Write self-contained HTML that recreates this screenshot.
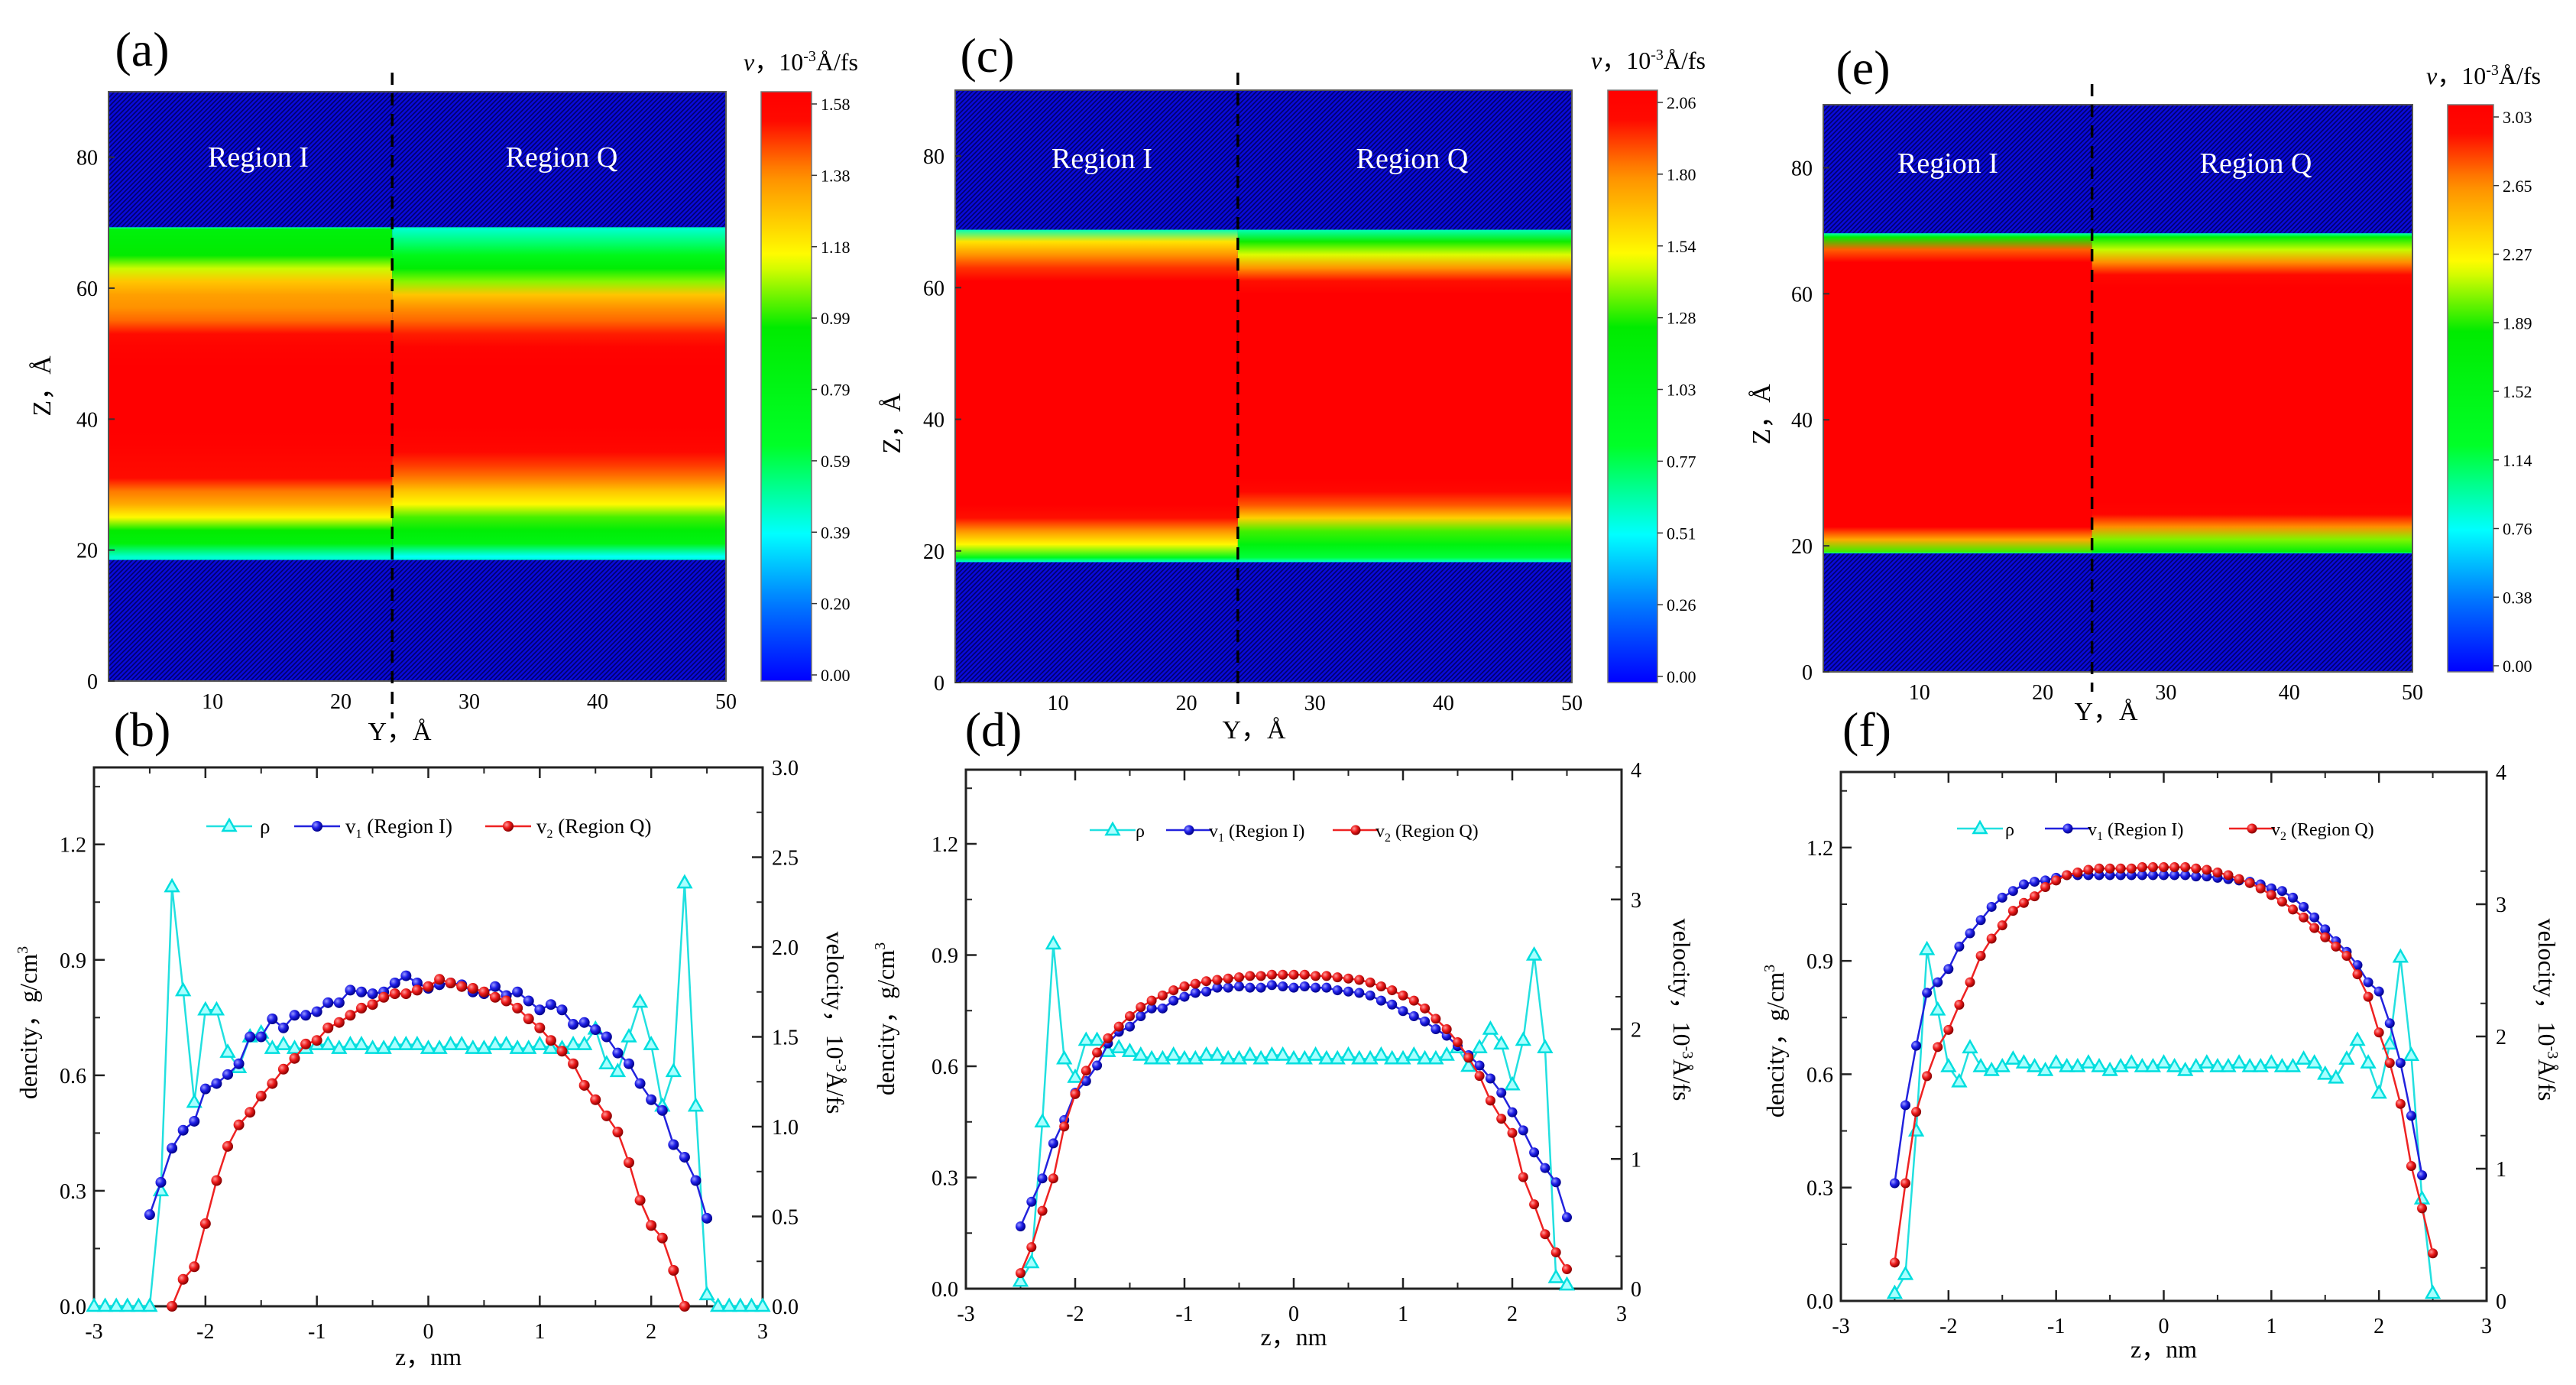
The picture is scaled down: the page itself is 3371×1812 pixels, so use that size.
<!DOCTYPE html>
<html><head><meta charset="utf-8"><style>
html,body{margin:0;padding:0;background:#fff;}
svg{display:block;font-family:"Liberation Serif","DejaVu Serif",serif;}
svg text, svg tspan{font-family:"Liberation Serif","DejaVu Serif",serif;}
</style></head><body>
<svg id="fig" width="3371" height="1812" viewBox="0 0 3371 1812" xmlns="http://www.w3.org/2000/svg" font-family="Liberation Serif, DejaVu Serif, serif">
<defs>
<pattern id="hatch" patternUnits="userSpaceOnUse" width="6" height="6">
<rect width="6" height="6" fill="#0a0ad8"/>
<path d="M-1,7 L7,-1 M-1,1 L1,-1 M5,7 L7,5" stroke="#00006a" stroke-width="1.6"/>
</pattern>
<radialGradient id="ballB" cx="35%" cy="35%" r="65%"><stop offset="0" stop-color="#9a9aff"/><stop offset="0.5" stop-color="#2020e8"/><stop offset="1" stop-color="#00008a"/></radialGradient>
<radialGradient id="ballR" cx="35%" cy="35%" r="65%"><stop offset="0" stop-color="#ff9a9a"/><stop offset="0.5" stop-color="#ee1c1c"/><stop offset="1" stop-color="#8a0000"/></radialGradient>
</defs>
</svg>
<script>
const NS='http://www.w3.org/2000/svg';
const svg=document.getElementById('fig');
const N=null;
const FONT='Liberation Serif, DejaVu Serif, serif';

// ---------- heatmap data ----------
const heatZ=[19,21,23,25,27,29,31,33,35,37,39,41,43,45,47,49,51,53,55,57,59,61,63,65,67,69];
const aLeft=[0.45,0.85,0.95,1.15,1.30,1.38,1.50,1.52,1.55,1.57,1.58,1.58,1.58,1.58,1.58,1.57,1.55,1.50,1.40,1.35,1.32,1.25,1.10,0.95,0.90,0.85];
const aRight=[0.40,0.80,0.90,1.00,1.15,1.25,1.38,1.45,1.52,1.56,1.58,1.58,1.58,1.58,1.58,1.57,1.55,1.48,1.40,1.35,1.25,1.05,0.92,0.75,0.55,0.45];
const cLeft=[0.95,1.50,1.75,1.95,2.06,2.06,2.06,2.06,2.06,2.06,2.06,2.06,2.06,2.06,2.06,2.06,2.06,2.06,2.06,2.06,2.06,2.06,1.90,1.75,1.55,1.20];
const cRight=[0.80,1.10,1.30,1.60,1.85,1.98,2.06,2.06,2.06,2.06,2.06,2.06,2.06,2.06,2.06,2.06,2.06,2.06,2.06,2.06,2.06,1.95,1.75,1.45,1.25,1.00];
const eLeft=[1.90,2.50,3.03,3.03,3.03,3.03,3.03,3.03,3.03,3.03,3.03,3.03,3.03,3.03,3.03,3.03,3.03,3.03,3.03,3.03,3.03,3.03,3.03,3.03,2.70,1.80];
const eRight=[1.70,2.00,2.60,2.95,3.03,3.03,3.03,3.03,3.03,3.03,3.03,3.03,3.03,3.03,3.03,3.03,3.03,3.03,3.03,3.03,3.03,3.03,2.90,2.60,2.10,1.80];
const aBar=['0.00','0.20','0.39','0.59','0.79','0.99','1.18','1.38','1.58'];
const cBar=['0.00','0.26','0.51','0.77','1.03','1.28','1.54','1.80','2.06'];
const eBar=['0.00','0.38','0.76','1.14','1.52','1.89','2.27','2.65','3.03'];
const heatYTicks=[0,20,40,60,80];
const heatXTicks=[10,20,30,40,50];

// ---------- profile data (z grid -3.0 .. 3.0, step 0.1) ----------
const zGrid=[-3.0,-2.9,-2.8,-2.7,-2.6,-2.5,-2.4,-2.3,-2.2,-2.1,-2.0,-1.9,-1.8,-1.7,-1.6,-1.5,-1.4,-1.3,-1.2,-1.1,-1.0,-0.9,-0.8,-0.7,-0.6,-0.5,-0.4,-0.3,-0.2,-0.1,0.0,0.1,0.2,0.3,0.4,0.5,0.6,0.7,0.8,0.9,1.0,1.1,1.2,1.3,1.4,1.5,1.6,1.7,1.8,1.9,2.0,2.1,2.2,2.3,2.4,2.5,2.6,2.7,2.8,2.9,3.0];
const bRho=[0,0,0,0,0, 0.00,0.30,1.09,0.82,0.53,0.77,0.77,0.66,0.62,0.70,0.71,0.67,
0.68,0.67,0.67,0.68,0.68,0.67,0.68,0.68,0.67,0.67,0.68,0.68,0.68,0.67,0.67,0.68,0.68,0.67,0.67,0.68,0.68,0.67,0.67,0.68,0.67,0.67,0.68,
0.68,0.72,0.63,0.61,0.70,0.79,0.68,0.52,0.61,1.10,0.52,0.03, 0,0,0,0,0];
const bV1=[N,N,N,N,N, 0.51,0.69,0.88,0.98,1.03,1.21,1.24,1.29,1.35,1.50,1.50,1.60,1.55,1.62,1.62,1.64,1.69,1.69,1.76,1.75,1.74,1.75,1.80,1.84,1.80,1.77,1.79,1.80,1.79,1.75,1.74,1.78,1.73,1.75,1.70,1.65,1.68,1.65,1.57,1.58,1.54,1.50,1.41,1.35,1.24,1.15,1.09,0.90,0.83,0.70,0.49, N,N,N,N,N];
const bV2=[N,N,N,N,N,N,N, 0.00,0.15,0.22,0.46,0.70,0.89,1.01,1.08,1.17,1.24,1.32,1.38,1.46,1.48,1.55,1.58,1.62,1.66,1.68,1.72,1.74,1.74,1.76,1.78,1.82,1.80,1.78,1.77,1.75,1.72,1.70,1.66,1.60,1.55,1.48,1.42,1.35,1.23,1.15,1.06,0.97,0.80,0.59,0.45,0.38,0.20,0.00, N,N,N,N,N,N,N];
const dRho=[N,N,N,N,N, 0.02,0.07,0.45,0.93,0.62,0.57,0.67,0.67,0.64,0.65,0.64,
0.63,0.62,0.62,0.63,0.62,0.62,0.63,0.63,0.62,0.62,0.63,0.62,0.63,0.63,0.62,0.62,0.63,0.62,0.62,0.63,0.62,0.62,0.63,0.62,0.62,0.63,0.62,0.62,0.63,
0.65,0.60,0.65,0.70,0.66,0.55,0.67,0.90,0.65,0.03,0.01, N,N,N,N,N];
const dV1=[N,N,N,N,N, 0.48,0.67,0.85,1.12,1.30,1.51,1.60,1.72,1.89,1.98,2.02,2.10,2.16,2.16,2.22,2.25,2.28,2.29,2.32,2.32,2.33,2.32,2.32,2.34,2.33,2.32,2.33,2.32,2.32,2.30,2.29,2.28,2.26,2.22,2.19,2.14,2.10,2.06,2.00,1.95,1.87,1.80,1.72,1.62,1.51,1.36,1.22,1.05,0.93,0.82,0.55, N,N,N,N,N];
const dV2=[N,N,N,N,N, 0.12,0.32,0.60,0.85,1.25,1.50,1.68,1.82,1.93,2.02,2.10,2.17,2.22,2.26,2.30,2.33,2.35,2.37,2.38,2.39,2.40,2.41,2.41,2.42,2.42,2.42,2.42,2.41,2.41,2.40,2.39,2.38,2.36,2.33,2.30,2.26,2.22,2.16,2.08,2.00,1.90,1.78,1.64,1.45,1.31,1.20,0.86,0.65,0.42,0.28,0.15, N,N,N,N,N];
const fRho=[N,N,N,N,N, 0.02,0.07,0.45,0.93,0.77,0.62,0.58,0.67,0.62,0.61,0.62,
0.64,0.63,0.62,0.61,0.63,0.62,0.62,0.63,0.62,0.61,0.62,0.63,0.62,0.62,0.63,0.62,0.61,0.62,0.63,0.62,0.62,0.63,0.62,0.62,0.63,0.62,0.62,0.64,0.63,
0.60,0.59,0.64,0.69,0.63,0.55,0.68,0.91,0.65,0.27,0.02, N,N,N,N,N];
const fV1=[N,N,N,N,N, 0.89,1.48,1.93,2.33,2.41,2.51,2.68,2.78,2.88,2.98,3.05,3.10,3.15,3.17,3.18,3.20,3.22,3.22,3.22,3.22,3.22,3.22,3.22,3.22,3.22,3.22,3.22,3.22,3.21,3.21,3.20,3.19,3.18,3.17,3.15,3.12,3.10,3.05,2.98,2.90,2.81,2.72,2.64,2.54,2.41,2.34,2.10,1.80,1.40,0.95, N,N,N,N,N];
const fV2=[N,N,N,N,N, 0.29,0.89,1.43,1.70,1.92,2.05,2.24,2.41,2.61,2.74,2.84,2.95,3.01,3.06,3.13,3.18,3.22,3.24,3.26,3.27,3.27,3.27,3.27,3.28,3.28,3.28,3.28,3.28,3.27,3.26,3.24,3.22,3.19,3.16,3.12,3.07,3.02,2.96,2.90,2.82,2.75,2.68,2.61,2.47,2.30,2.03,1.80,1.49,1.02,0.70,0.36, N,N,N,N,N];
const xTicks=[-3,-2,-1,0,1,2,3];
const leftTicks=['0.0','0.3','0.6','0.9','1.2'];
const bRightTicks=['0.0','0.5','1.0','1.5','2.0','2.5','3.0'];
const dRightTicks=['0','1','2','3','4'];

// ---------- helpers ----------
function el(tag,attrs,parent){const e=document.createElementNS(NS,tag);for(const k in attrs)e.setAttribute(k,attrs[k]);(parent||svg).appendChild(e);return e;}
function tel(attrs,parent){const e=el('text',attrs,parent);e.setAttribute('font-family',FONT);return e;}
function txt(s,attrs,parent){const e=tel(attrs,parent);e.textContent=s;return e;}
const cmapStops=[[0,[0,0,255]],[0.12,[0,110,255]],[0.25,[0,255,255]],[0.4,[0,255,40]],[0.6,[0,235,0]],[0.72,[255,255,0]],[0.86,[255,140,0]],[0.95,[255,10,0]],[1,[255,0,0]]];
function cmap(t){t=Math.max(0,Math.min(1,t));for(let i=1;i<cmapStops.length;i++){const a=cmapStops[i-1],b=cmapStops[i];if(t<=b[0]){const f=(t-a[0])/(b[0]-a[0]);const c=a[1].map((v,j)=>Math.round(v+(b[1][j]-v)*f));return 'rgb('+c.join(',')+')';}}return 'rgb(255,0,0)';}
let gid=0;
function vGrad(y1,y2,stops){const defs=svg.querySelector('defs');const id='g'+(gid++);const g=el('linearGradient',{id:id,gradientUnits:'userSpaceOnUse',x1:0,x2:0,y1:y1,y2:y2},defs);stops.forEach(s=>el('stop',{offset:s[0],'stop-color':s[1]},g));return 'url(#'+id+')';}

function heatmap(P){
  const g=el('g',{});
  
  
  const xs=v=>P.L+(v-P.x0)/(P.x1-P.x0)*(P.R-P.L);
  const ys=v=>P.B-(v/90)*(P.B-P.T);
  const bg=el('rect',{x:P.L,y:P.T,width:P.R-P.L,height:P.B-P.T,fill:'url(#hatch)'},g);
  
  
  const lo=P.lo,hi=P.hi;
  [[P.left,P.L,xs(P.split)],[P.right,xs(P.split),P.R]].forEach((c,ci)=>{
    const stops=[[0,cmap(0.28)]];
    heatZ.forEach((z,i)=>{const off=(z-lo)/(hi-lo);if(off>0&&off<1)stops.push([off.toFixed(4),cmap(c[0][i]/P.vmax)]);});
    stops.push([1,cmap(0.3)]);
    const r=el('rect',{x:c[1],y:ys(hi),width:c[2]-c[1],height:ys(lo)-ys(hi),fill:vGrad(ys(lo),ys(hi),stops)},g);
    
    
  });
  el('rect',{x:P.L,y:P.T,width:P.R-P.L,height:P.B-P.T,fill:'none',stroke:'#555',"stroke-width":2},g);
  heatYTicks.forEach(v=>{el('line',{x1:P.L,x2:P.L+8,y1:ys(v),y2:ys(v),stroke:'#333','stroke-width':2},g);
    const t=txt(String(v),{x:P.L-14,y:ys(v)+10,'text-anchor':'end','font-size':28},g);
    
    });
  heatXTicks.forEach(v=>{const t=txt(String(v),{x:xs(v),y:P.B+36,'text-anchor':'middle','font-size':28},g);
    
    });
  const d=el('line',{x1:xs(P.split),x2:xs(P.split),y1:P.dT,y2:P.dB,stroke:'#000','stroke-width':3.5,'stroke-dasharray':'16,11'},g);
  
  
  const r1=txt('Region I',{x:P.r1x,y:P.ry,'text-anchor':'middle','font-size':38,fill:'#fff'},g);
  
  
  const r2=txt('Region Q',{x:P.r2x,y:P.ry,'text-anchor':'middle','font-size':38,fill:'#fff'},g);
  
  
  const yl=txt('Z，Å',{x:0,y:0,'text-anchor':'middle','font-size':34,transform:'translate('+P.ylx+','+P.yly+') rotate(-90)'},g);
  
  
  const xl=txt('Y，Å',{x:P.xlx,y:P.xly,'text-anchor':'middle','font-size':34},g);
  
  
  const cb=el('g',{},g);
  
  
  const cst=[];for(let i=0;i<=40;i++){cst.push([(i/40).toFixed(3),cmap(i/40)]);}
  el('rect',{x:P.cL,y:P.T,width:P.cR-P.cL,height:P.B-P.T,fill:vGrad(P.cB,P.cT,cst),stroke:'#777','stroke-width':1.5},cb);
  P.bar.forEach((s,i)=>{const y=P.cB-8-(i/8)*(P.cB-P.cT-24);
    el('line',{x1:P.cR,x2:P.cR+7,y1:y,y2:y,stroke:'#333','stroke-width':1.5},cb);
    const t=txt(s,{x:P.cR+12,y:y+8,'font-size':22},cb);
    
    });
  const ct=tel({x:P.ctx,y:P.cty,'text-anchor':'end','font-size':32},g);
  
  
  ct.innerHTML='<tspan font-style="italic">v</tspan>，10<tspan font-size="20" dy="-12">-3</tspan><tspan dy="12">Å/fs</tspan>';
  const pl=txt(P.letter,{x:P.lx,y:P.ly,'text-anchor':'middle','font-size':64},g);
  
  
}

heatmap({name:'heatmap-a',letter:'(a)',lx:186,ly:86,L:142,R:950,T:120,B:891,x0:1.9,x1:50,split:24,lo:18.5,hi:69.3,vmax:1.58,left:aLeft,right:aRight,bar:aBar,
 cL:996,cR:1062,cT:120,cB:891,ctx:1123,cty:92,dT:95,dB:940,r1x:338,r2x:735,ry:218,ylx:66,yly:505,xlx:523,xly:968});
heatmap({name:'heatmap-c',letter:'(c)',lx:1292,ly:94,L:1250,R:2057,T:118,B:893,x0:2,x1:50,split:24,lo:18.3,hi:68.8,vmax:2.06,left:cLeft,right:cRight,bar:cBar,
 cL:2104,cR:2169,cT:118,cB:893,ctx:2232,cty:90,dT:95,dB:930,r1x:1442,r2x:1848,ry:220,ylx:1178,yly:554,xlx:1641,xly:966});
heatmap({name:'heatmap-e',letter:'(e)',lx:2438,ly:110,L:2386,R:3157,T:137,B:879,x0:2.2,x1:50,split:24,lo:18.8,hi:69.6,vmax:3.03,left:eLeft,right:eRight,bar:eBar,
 cL:3203,cR:3263,cT:137,cB:879,ctx:3325,cty:110,dT:110,dB:905,r1x:2549,r2x:2952,ry:226,ylx:2316,yly:542,xlx:2756,xly:942});

function profile(P){
  const g=el('g',{});
  
  
  const xs=v=>P.L+(v+3)/6*(P.R-P.L);
  const yl=v=>P.B-(v/1.4)*(P.B-P.T);
  const yr=v=>P.B-(v/P.rMax)*(P.B-P.T);
  el('rect',{x:P.L,y:P.T,width:P.R-P.L,height:P.B-P.T,fill:'none',stroke:'#222','stroke-width':3},g);
  xTicks.forEach((v,i)=>{const x=xs(v);
    el('line',{x1:x,x2:x,y1:P.B,y2:P.B-14,stroke:'#222','stroke-width':2.5},g);
    el('line',{x1:x,x2:x,y1:P.T,y2:P.T+14,stroke:'#222','stroke-width':2.5},g);
    if(i<xTicks.length-1){const xm=xs(v+0.5);el('line',{x1:xm,x2:xm,y1:P.B,y2:P.B-8,stroke:'#222','stroke-width':2},g);el('line',{x1:xm,x2:xm,y1:P.T,y2:P.T+8,stroke:'#222','stroke-width':2},g);}
    const t=txt(String(v),{x:x,y:P.B+42,'text-anchor':'middle','font-size':28},g);
    
    });
  leftTicks.forEach((s,i)=>{const y=yl(parseFloat(s));
    el('line',{x1:P.L,x2:P.L+14,y1:y,y2:y,stroke:'#222','stroke-width':2.5},g);
    const ym=yl(parseFloat(s)+0.15);el('line',{x1:P.L,x2:P.L+8,y1:ym,y2:ym,stroke:'#222','stroke-width':2},g);
    const t=txt(s,{x:P.L-10,y:y+10,'text-anchor':'end','font-size':28},g);
    
    });
  P.rTicks.forEach((s,i)=>{const v=parseFloat(s),y=yr(v);
    el('line',{x1:P.R,x2:P.R-14,y1:y,y2:y,stroke:'#222','stroke-width':2.5},g);
    if(i<P.rTicks.length-1){const ym=yr(v+P.rStep/2);el('line',{x1:P.R,x2:P.R-8,y1:ym,y2:ym,stroke:'#222','stroke-width':2},g);}
    const t=txt(s,{x:P.R+12,y:y+10,'font-size':28},g);
    
    });
  function series(vals,ys,color,kind,nm){
    const sg=el('g',{},g);
    
    
    let d='';vals.forEach((v,i)=>{if(v===null)return;d+=(d?'L':'M')+xs(zGrid[i]).toFixed(1)+','+ys(v).toFixed(1);});
    el('path',{d:d,fill:'none',stroke:color,'stroke-width':2.5},sg);
    vals.forEach((v,i)=>{if(v===null)return;const x=xs(zGrid[i]),y=ys(v);
      if(kind==='tri'){const m=el('path',{d:'M'+x+','+(y-9)+'L'+(x+8.5)+','+(y+6)+'L'+(x-8.5)+','+(y+6)+'Z',fill:'#a8ffff',stroke:'#00dede','stroke-width':2.5},sg);
        
        }
      else{const m=el('circle',{cx:x,cy:y,r:P.r,fill:kind},sg);
        
        }
    });
  }
  series(P.rho,yl,'#22e0e0','tri','density-series');
  series(P.v1,yr,'#2222dd','url(#ballB)','v1-region-i-series');
  series(P.v2,yr,'#ee2222','url(#ballR)','v2-region-q-series');
  const lg=el('g',{},g);
  
  
  const ly=P.legY;
  el('line',{x1:P.lg[0]-30,x2:P.lg[0]+30,y1:ly,y2:ly,stroke:'#22e0e0','stroke-width':2.5},lg);
  el('path',{d:'M'+P.lg[0]+','+(ly-9)+'l8.5,15h-17z',fill:'#a8ffff',stroke:'#00dede','stroke-width':2.5},lg);
  const t1=txt('ρ',{x:P.lg[1],y:ly+9,'font-size':P.lf},lg);
  
  
  el('line',{x1:P.lg[2]-30,x2:P.lg[2]+30,y1:ly,y2:ly,stroke:'#2222dd','stroke-width':2.5},lg);
  el('circle',{cx:P.lg[2],cy:ly,r:P.r,fill:'url(#ballB)'},lg);
  const t2=tel({x:P.lg[3],y:ly+9,'font-size':P.lf},lg);
  
  
  t2.innerHTML='v<tspan font-size="16" dy="6">1</tspan><tspan dy="-6"> (Region I)</tspan>';
  el('line',{x1:P.lg[4]-30,x2:P.lg[4]+30,y1:ly,y2:ly,stroke:'#ee2222','stroke-width':2.5},lg);
  el('circle',{cx:P.lg[4],cy:ly,r:P.r,fill:'url(#ballR)'},lg);
  const t3=tel({x:P.lg[5],y:ly+9,'font-size':P.lf},lg);
  
  
  t3.innerHTML='v<tspan font-size="16" dy="6">2</tspan><tspan dy="-6"> (Region Q)</tspan>';
  const xt=txt('z，nm',{x:(P.L+P.R)/2,y:P.xty,'text-anchor':'middle','font-size':32},g);
  
  
  const lt=tel({x:0,y:0,'text-anchor':'middle','font-size':32,transform:'translate('+P.ltx+','+P.lty+') rotate(-90)'},g);
  
  
  lt.innerHTML='dencity，g/cm<tspan font-size="20" dy="-12">3</tspan>';
  const rt=tel({x:0,y:0,'text-anchor':'middle','font-size':32,transform:'translate('+P.rtx+','+P.rty+') rotate(90)'},g);
  
  
  rt.innerHTML='velocity，10<tspan font-size="20" dy="-12">-3</tspan><tspan dy="12">Å/fs</tspan>';
  const pl=txt(P.letter,{x:P.lx,y:P.ly,'text-anchor':'middle','font-size':64},g);
  
  
}

profile({name:'profile-b',letter:'(b)',lx:186,ly:976,L:123,R:998,T:1004,B:1709,rMax:3,rStep:0.5,rTicks:bRightTicks,rho:bRho,v1:bV1,v2:bV2,r:7,
 legY:1081,lg:[300,340,415,452,665,702],lf:27,xty:1786,ltx:48,lty:1338,rtx:1082,rty:1338});
profile({name:'profile-d',letter:'(d)',lx:1300,ly:976,L:1264,R:2122,T:1007,B:1686,rMax:4,rStep:0.5,rTicks:dRightTicks,rho:dRho,v1:dV1,v2:dV2,r:6.5,
 legY:1086,lg:[1456,1486,1556,1582,1774,1800],lf:24,xty:1760,ltx:1170,lty:1333,rtx:2190,rty:1321});
profile({name:'profile-f',letter:'(f)',lx:2443,ly:976,L:2409,R:3254,T:1010,B:1702,rMax:4,rStep:0.5,rTicks:dRightTicks,rho:fRho,v1:fV1,v2:fV2,r:6.5,
 legY:1084,lg:[2591,2624,2706,2732,2947,2972],lf:24,xty:1776,ltx:2334,lty:1362,rtx:3322,rty:1321});
</script>
</body></html>
